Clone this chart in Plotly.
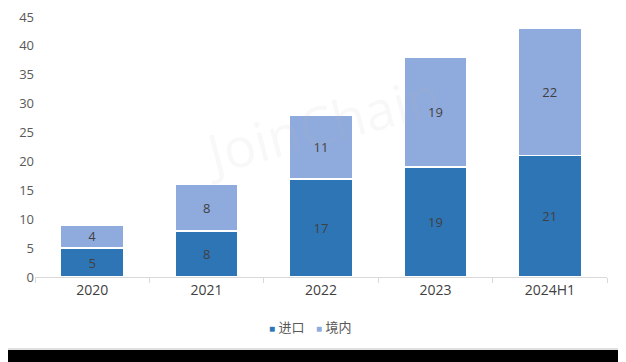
import plotly.graph_objects as go

categories = ["2020", "2021", "2022", "2023", "2024H1"]
import_vals = [5, 8, 17, 19, 21]
domestic_vals = [4, 8, 11, 19, 22]
y_ticks = [0, 5, 10, 15, 20, 25, 30, 35, 40, 45]
series_names = ["进口", "境内"]
series_colors = ["#2E75B6", "#8FAADC"]

font_family = "Open Sans, Liberation Sans, Noto Sans CJK SC, sans-serif"

fig = go.Figure()
for name, vals, color in zip(series_names, [import_vals, domestic_vals], series_colors):
    fig.add_trace(go.Bar(
        x=categories, y=vals, name=name,
        marker=dict(color=color, line=dict(color="white", width=1.5)),
        text=vals, textposition="inside", insidetextanchor="middle", textangle=0,
        textfont=dict(color="#404040", size=13, family=font_family),
    ))

legend_ann = [
    dict(text=f"<span style='color:{c}; font-size:10px'>■</span> {n}",
         xref="paper", yref="paper", x=xp, y=-0.192, xanchor="left", yanchor="middle",
         showarrow=False, font=dict(size=13, color="#595959", family=font_family))
    for n, c, xp in zip(series_names, series_colors, [(267 - 35) / 572, (314 - 35) / 572])
]

fig.update_layout(
    barmode="stack",
    bargap=0.45,
    width=626, height=362,
    margin=dict(l=27, r=27, t=9, b=93, autoexpand=False),
    paper_bgcolor="white", plot_bgcolor="white",
    font=dict(family=font_family, size=13, color="#595959"),
    showlegend=False,
    xaxis=dict(showline=True, linecolor="#D9D9D9", linewidth=1,
               ticks="outside", tickson="boundaries", tickcolor="#D9D9D9", ticklen=5,
               tickfont=dict(size=14, color="#404040")),
    yaxis=dict(range=[0, 45], tickvals=y_ticks, showgrid=False, zeroline=False,
               showline=False, ticks="", ticklabeloverflow="allow",
               tickfont=dict(size=13, color="#595959")),
    annotations=[dict(text="JoinChain", xref="paper", yref="paper", x=0.5, y=0.32,
                      showarrow=False, textangle=-15,
                      font=dict(size=54, color="rgba(190,190,190,0.10)", family=font_family))]
                + legend_ann,
    shapes=[
        dict(type="rect", xref="paper", yref="paper", x0=-0.0594, x1=1.0297, y0=-0.277, y1=1.0615,
             line=dict(color="#BFBFBF", width=1), layer="below"),
        dict(type="rect", xref="paper", yref="paper", x0=-0.1, x1=1.1, y0=-0.40, y1=-0.281,
             fillcolor="black", line=dict(width=0), layer="above"),
    ],
)

fig.write_html("out.html")
